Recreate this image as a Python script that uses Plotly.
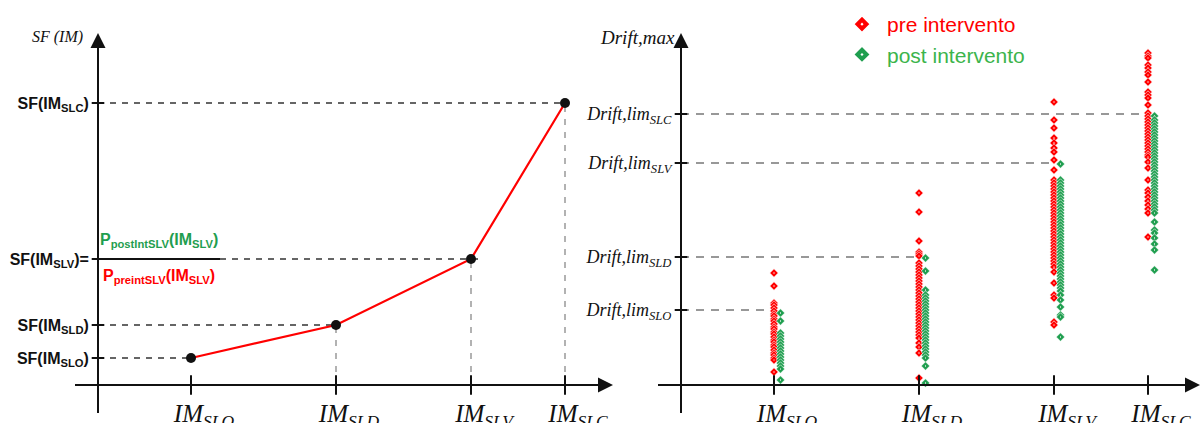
import plotly.graph_objects as go

# ---------------------------------------------------------------- data
im_levels = ["SLO", "SLD", "SLV", "SLC"]
im_values = [0.93, 2.38, 3.73, 4.67]        # intensity measure of each limit state
sf_values = [0.27, 0.60, 1.26, 2.82]        # safety factor SF(IM) at each limit state
drift_limits = [0.75, 1.28, 2.22, 2.71]     # drift limit of each limit state

# maximum drift per record, before and after the intervention
pre_slo = [1.12, 0.99, 0.82, 0.80, 0.77, 0.74, 0.71, 0.69, 0.66, 0.64, 0.61, 0.58,
           0.56, 0.53, 0.51, 0.48, 0.45, 0.43, 0.40, 0.38, 0.35, 0.32, 0.30, 0.27,
           0.25, 0.13]
post_slo = [0.72, 0.64, 0.52, 0.49, 0.46, 0.43, 0.40, 0.37, 0.34, 0.31, 0.28, 0.25,
            0.22, 0.19, 0.16, 0.05]
pre_sld = [1.92, 1.73, 1.44, 1.33, 1.31, 1.29, 1.22, 1.19, 1.16, 1.13, 1.10, 1.07,
           1.04, 1.01, 0.98, 0.95, 0.92, 0.89, 0.86, 0.83, 0.80, 0.77, 0.74, 0.71,
           0.68, 0.65, 0.62, 0.59, 0.56, 0.53, 0.50, 0.47, 0.42, 0.38, 0.32, 0.07]
post_sld = [1.27, 1.14, 0.95, 0.90, 0.87, 0.84, 0.81, 0.78, 0.75, 0.72, 0.69, 0.66,
            0.63, 0.60, 0.57, 0.54, 0.51, 0.48, 0.45, 0.42, 0.39, 0.36, 0.33, 0.30,
            0.27, 0.19, 0.02]
pre_slv = [2.83, 2.65, 2.57, 2.47, 2.42, 2.37, 2.33, 2.25, 2.15, 2.05, 2.02, 1.99,
           1.96, 1.93, 1.90, 1.87, 1.84, 1.81, 1.78, 1.75, 1.72, 1.69, 1.66, 1.63,
           1.60, 1.57, 1.54, 1.51, 1.48, 1.45, 1.42, 1.39, 1.36, 1.33, 1.30, 1.27,
           1.24, 1.21, 1.18, 1.13, 1.02, 0.90, 0.87, 0.63, 0.60]
post_slv = [2.21, 2.05, 2.02, 1.99, 1.96, 1.93, 1.90, 1.87, 1.84, 1.81, 1.78, 1.75,
            1.72, 1.69, 1.66, 1.63, 1.60, 1.57, 1.54, 1.51, 1.48, 1.45, 1.42, 1.39,
            1.36, 1.33, 1.30, 1.27, 1.24, 1.21, 1.18, 1.15, 1.12, 1.09, 1.06, 1.03,
            1.00, 0.97, 0.94, 0.90, 0.85, 0.78, 0.70, 0.68, 0.48]
pre_slc = [3.32, 3.29, 3.27, 3.20, 3.17, 3.13, 3.10, 3.03, 2.93, 2.90, 2.87, 2.80,
           2.72, 2.69, 2.66, 2.63, 2.60, 2.57, 2.54, 2.51, 2.48, 2.45, 2.42, 2.39,
           2.36, 2.33, 2.30, 2.28, 2.23, 2.17, 2.05, 1.95, 1.92, 1.88, 1.84, 1.80,
           1.76, 1.72, 1.48]
post_slc = [2.69, 2.65, 2.62, 2.59, 2.56, 2.53, 2.50, 2.47, 2.44, 2.41, 2.38, 2.35,
            2.32, 2.29, 2.26, 2.23, 2.20, 2.17, 2.14, 2.11, 2.08, 2.05, 2.02, 1.99,
            1.96, 1.93, 1.90, 1.87, 1.84, 1.81, 1.78, 1.75, 1.72, 1.63, 1.55, 1.52,
            1.47, 1.41, 1.35, 1.15]

pre_columns = [pre_slo, pre_sld, pre_slv, pre_slc]
post_columns = [post_slo, post_sld, post_slv, post_slc]

# ---------------------------------------------------------------- layout helpers
W, H = 1201, 423


def px_x(p):
    return p / W


def px_y(p):
    return 1 - p / H


Y_RANGE = [-0.28, 3.52]
LEFT_X_RANGE = [-0.23, 5.15]
RIGHT_X_RANGE = [-0.23, 5.19]
Y_DOMAIN = [px_y(413), px_y(33)]
X_AXIS_POS = px_y(385)

RED = "#ff0000"
GREEN = "#1f9e4f"
GREEN_TEXT = "#3cb44b"
INK = "#111111"
SERIF = "Liberation Serif, Times New Roman, serif"
SANS = "Liberation Sans, Arial, sans-serif"

POST_SHIFT = 0.065   # post-intervention column drawn just right of the pre one

fig = go.Figure()

# ---------------------------------------------------------------- left panel: SF(IM)
shapes = []
# horizontal guides from the axis to each point, vertical guides down to the IM axis
for i, (xv, yv) in enumerate(zip(im_values, sf_values)):
    if im_levels[i] == "SLV":
        x_start, x_end = 1.22, xv + 0.09
    else:
        x_start, x_end = 0, xv
    shapes.append(dict(type="line", xref="x", yref="y", x0=x_start, x1=x_end,
                       y0=yv, y1=yv, layer="below",
                       line=dict(color="#333333", width=1.3, dash="6px,6px")))
    if im_levels[i] != "SLO":
        shapes.append(dict(type="line", xref="x", yref="y", x0=xv, x1=xv,
                           y0=0, y1=yv, layer="below",
                           line=dict(color="#999999", width=1.5, dash="6px,7px")))

# fraction bar of the SF(IM_SLV) definition
shapes.append(dict(type="line", xref="x", yref="y", x0=0, x1=1.22,
                   y0=sf_values[2], y1=sf_values[2],
                   line=dict(color=INK, width=2)))

fig.add_trace(go.Scatter(
    x=im_values, y=sf_values, mode="lines+markers", xaxis="x", yaxis="y",
    line=dict(color=RED, width=2.2),
    marker=dict(color=INK, size=10, symbol="circle"),
    showlegend=False, hoverinfo="skip"))

# ---------------------------------------------------------------- right panel: drift
for xv, yv in zip(im_values, drift_limits):
    shapes.append(dict(type="line", xref="x2", yref="y2", x0=0, x1=xv,
                       y0=yv, y1=yv, layer="below",
                       line=dict(color="#777777", width=1.4, dash="8px,7px")))

pre_x, pre_y, post_x, post_y = [], [], [], []
for xv, col in zip(im_values, pre_columns):
    pre_x += [xv] * len(col)
    pre_y += col
for xv, col in zip(im_values, post_columns):
    post_x += [xv + POST_SHIFT] * len(col)
    post_y += col


def diamond(color, size, outline):
    return dict(symbol="diamond-dot", size=size, color=color,
                line=dict(width=outline, color="white"))


fig.add_trace(go.Scatter(
    x=pre_x, y=pre_y, mode="markers", xaxis="x2", yaxis="y2",
    marker=diamond(RED, 6.5, 0.6), showlegend=False, hoverinfo="skip"))
fig.add_trace(go.Scatter(
    x=post_x, y=post_y, mode="markers", xaxis="x2", yaxis="y2",
    marker=diamond(GREEN, 6.5, 0.6), showlegend=False, hoverinfo="skip"))

# legend entries with a larger symbol
fig.add_trace(go.Scatter(
    x=[None], y=[None], mode="markers", xaxis="x2", yaxis="y2",
    name=f'<span style="color:{RED}">pre intervento</span>',
    marker=diamond(RED, 13, 1.5), legendgroup="pre"))
fig.add_trace(go.Scatter(
    x=[None], y=[None], mode="markers", xaxis="x2", yaxis="y2",
    name=f'<span style="color:{GREEN_TEXT}">post intervento</span>',
    marker=diamond(GREEN, 13, 1.5), legendgroup="post"))

# ---------------------------------------------------------------- axis lines
AX = dict(color=INK, width=2)
shapes += [
    dict(type="line", xref="x", yref="y", x0=LEFT_X_RANGE[0], x1=LEFT_X_RANGE[1] - 0.05, y0=0, y1=0, line=AX),
    dict(type="line", xref="x", yref="y", x0=0, x1=0, y0=Y_RANGE[0], y1=1.62, line=AX),
    dict(type="line", xref="x", yref="y", x0=0, x1=0, y0=0.90, y1=Y_RANGE[1] - 0.05, line=AX),
    dict(type="line", xref="x2", yref="y2", x0=RIGHT_X_RANGE[0], x1=RIGHT_X_RANGE[1] - 0.05, y0=0, y1=0, line=AX),
    dict(type="line", xref="x2", yref="y2", x0=0, x1=0, y0=Y_RANGE[0], y1=Y_RANGE[1] - 0.05, line=AX),
]

# tick marks crossing the axes
for xa, ya, levels in (("x", "y", sf_values), ("x2", "y2", drift_limits)):
    fig.add_trace(go.Scatter(
        x=im_values, y=[0] * len(im_values), mode="markers", xaxis=xa, yaxis=ya,
        marker=dict(symbol="line-ns", size=14, line=dict(width=2, color=INK)),
        showlegend=False, hoverinfo="skip", cliponaxis=False))
    fig.add_trace(go.Scatter(
        x=[0] * len(levels), y=levels, mode="markers", xaxis=xa, yaxis=ya,
        marker=dict(symbol="line-ew", size=9, line=dict(width=2, color=INK)),
        showlegend=False, hoverinfo="skip", cliponaxis=False))

# ---------------------------------------------------------------- annotations
annotations = []
for xa, ya, x_end in (("x", "y", LEFT_X_RANGE[1]), ("x2", "y2", RIGHT_X_RANGE[1])):
    annotations.append(dict(x=x_end, y=0, xref=xa, yref=ya, text="", showarrow=True,
                            ax=-16, ay=0, arrowhead=2, arrowsize=1.5, arrowwidth=2,
                            arrowcolor=INK))
    annotations.append(dict(x=0, y=Y_RANGE[1], xref=xa, yref=ya, text="", showarrow=True,
                            ax=0, ay=16, arrowhead=2, arrowsize=1.5, arrowwidth=2,
                            arrowcolor=INK))

annotations += [
    dict(x=px_x(57), y=px_y(37), xref="paper", yref="paper", showarrow=False,
         xanchor="center", yanchor="middle",
         text="<i>SF (IM)</i>", font=dict(family=SERIF, size=16, color=INK)),
    dict(x=px_x(637), y=px_y(37), xref="paper", yref="paper", showarrow=False,
         xanchor="center", yanchor="middle",
         text="<i>Drift,max</i>", font=dict(family=SERIF, size=19, color=INK)),
    dict(x=px_x(159), y=px_y(240), xref="paper", yref="paper", showarrow=False,
         xanchor="center", yanchor="middle",
         text="<b>P<sub>postIntSLV</sub>(IM<sub>SLV</sub>)</b>",
         font=dict(family=SANS, size=16, color=GREEN)),
    dict(x=px_x(159), y=px_y(276), xref="paper", yref="paper", showarrow=False,
         xanchor="center", yanchor="middle",
         text="<b>P<sub>preintSLV</sub>(IM<sub>SLV</sub>)</b>",
         font=dict(family=SANS, size=16, color=RED)),
]

# ---------------------------------------------------------------- axes
im_ticktext = [f"<i>IM<sub>{lv}</sub></i>" for lv in im_levels]
sf_ticktext = [f"<b>SF(IM<sub>{lv}</sub>)</b>" for lv in im_levels]
sf_ticktext[2] = "<b>SF(IM<sub>SLV</sub>)=</b>"
drift_ticktext = [f"<i>Drift,lim<sub>{lv}</sub></i>" for lv in im_levels]

common_x = dict(anchor="free", position=X_AXIS_POS, tickvals=im_values, ticktext=im_ticktext,
                tickfont=dict(family=SERIF, size=25, color=INK),
                ticks="outside", ticklen=6, tickcolor="rgba(0,0,0,0)", ticklabelshift=13,
                showline=False, showgrid=False, zeroline=False, automargin=False,
                fixedrange=True)
common_y = dict(anchor="free", domain=Y_DOMAIN, range=Y_RANGE,
                ticks="outside", ticklen=6, tickcolor="rgba(0,0,0,0)",
                showline=False, showgrid=False, zeroline=False, automargin=False,
                fixedrange=True)

fig.update_layout(
    width=W, height=H, autosize=False,
    margin=dict(l=0, r=0, t=0, b=0, pad=0),
    paper_bgcolor="white", plot_bgcolor="white",
    xaxis=dict(domain=[px_x(75), px_x(613)], range=LEFT_X_RANGE, **common_x),
    yaxis=dict(position=px_x(98), tickvals=sf_values, ticktext=sf_ticktext,
               tickfont=dict(family=SANS, size=16, color=INK), **common_y),
    xaxis2=dict(domain=[px_x(658), px_x(1200)], range=RIGHT_X_RANGE, **common_x),
    yaxis2=dict(position=px_x(681), tickvals=drift_limits, ticktext=drift_ticktext,
                tickfont=dict(family=SERIF, size=18, color=INK), **common_y),
    shapes=shapes,
    annotations=annotations,
    legend=dict(x=px_x(837), y=px_y(4), xanchor="left", yanchor="top",
                font=dict(family=SANS, size=21), itemsizing="trace", itemwidth=40,
                bgcolor="rgba(0,0,0,0)", tracegroupgap=0, traceorder="grouped"),
    showlegend=True,
)

fig.write_html("out.html")
